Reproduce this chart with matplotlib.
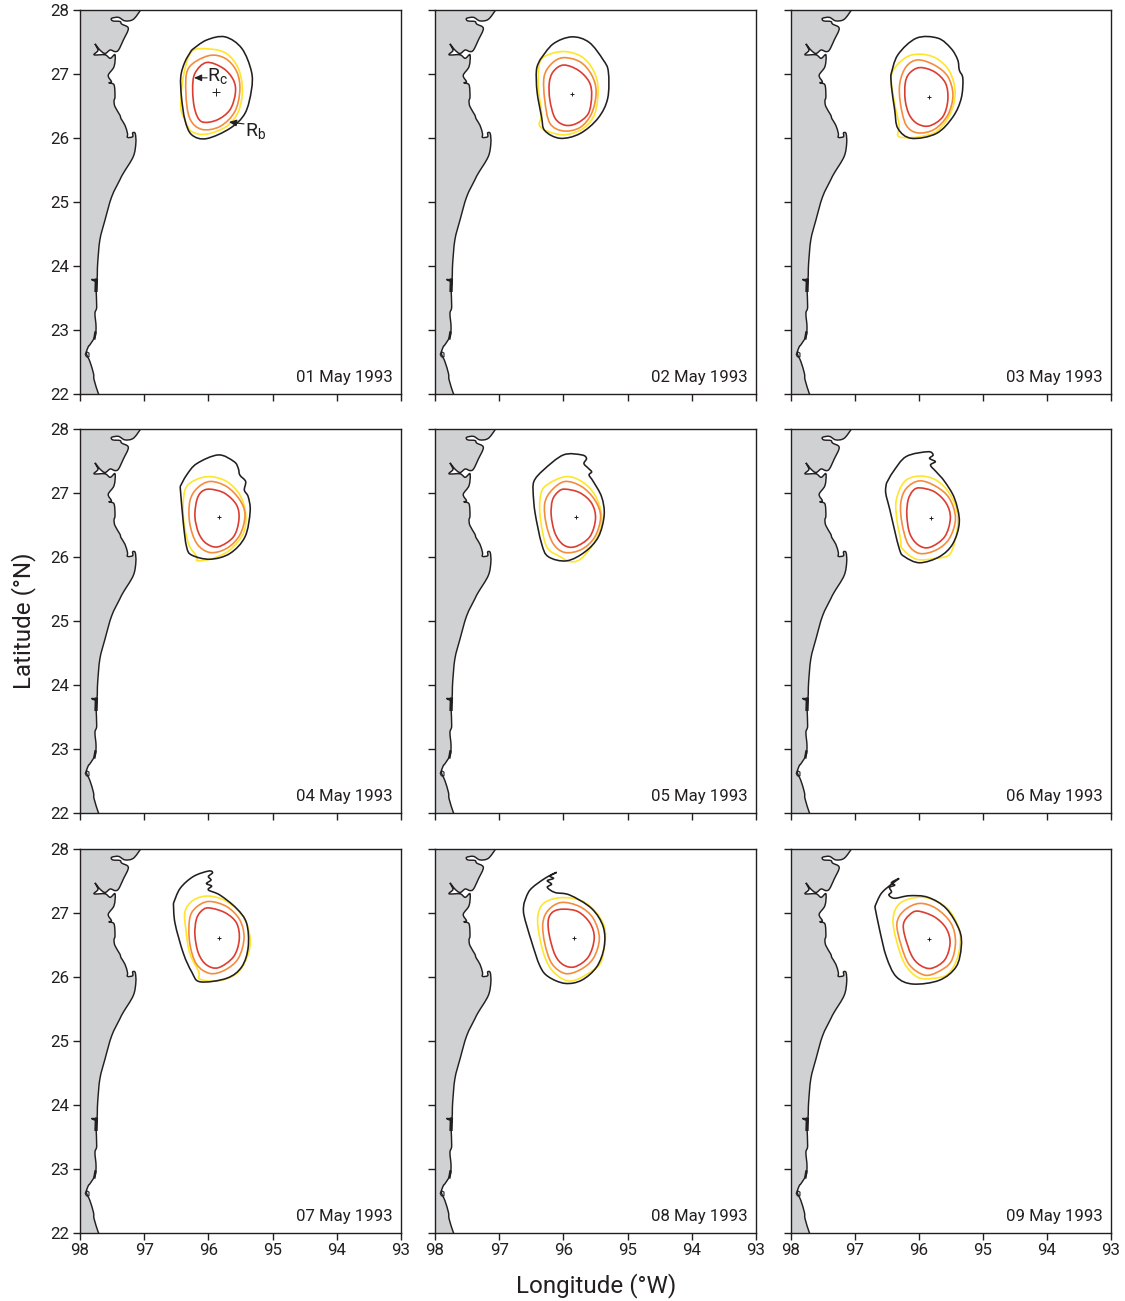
import matplotlib
matplotlib.use("Agg")
import matplotlib.pyplot as plt
from matplotlib.path import Path
from matplotlib.patches import PathPatch

plt.rcParams['font.family'] = ['Roboto', 'DejaVu Sans']
plt.rcParams['mathtext.fontset'] = 'custom'
plt.rcParams['mathtext.rm'] = 'Roboto'

W, H = 1125, 1301
dates = ['01 May 1993', '02 May 1993', '03 May 1993', '04 May 1993', '05 May 1993',
         '06 May 1993', '07 May 1993', '08 May 1993', '09 May 1993']
lon_ticks = [98, 97, 96, 95, 94, 93]
lat_ticks = [22, 23, 24, 25, 26, 27, 28]

coast = [(97.055,28.0),(97.17,27.854),(97.30,27.83),(97.40,27.885),(97.507,27.87),(97.49,27.83),(97.377,27.82),
         (97.35,27.78),(97.247,27.713),(97.325,27.53),(97.40,27.375),(97.455,27.35),(97.53,27.375),(97.61,27.32),
         (97.69,27.375),(97.767,27.47),(97.72,27.37),(97.78,27.30),(97.61,27.30),(97.53,27.245),(97.455,27.30),
         (97.47,27.115),(97.56,26.98),(97.51,26.88),(97.55,26.86),(97.47,26.83),(97.455,26.645),(97.47,26.58),(97.455,26.49),
         (97.38,26.36),(97.36,26.30),(97.30,26.2),(97.26,26.07),(97.26,26.01),(97.18,26.02),(97.18,26.08),(97.14,26.07),
         (97.13,25.92),(97.17,25.71),(97.325,25.45),(97.38,25.344),(97.507,25.08),(97.61,24.72),(97.69,24.41),
         (97.725,24.04),(97.74,23.78),(97.82,23.79),(97.74,23.77),(97.75,23.65),(97.74,23.36),(97.767,23.26),
         (97.75,23.05),(97.767,22.90),(97.845,22.77),(97.87,22.74),(97.90,22.635),(97.845,22.505),(97.79,22.32),
         (97.78,22.22),(97.715,22.01),(97.70,22.0)]
coast_bar_1 = [(97.745,23.78),(97.75,23.62)]
coast_bar_2 = [(97.76,22.96),(97.775,22.87)]
island = [(97.90,22.66),(97.86,22.64),(97.86,22.58),(97.90,22.58),(97.92,22.62),(97.90,22.66)]

black_1 = [(96.26,27.375),(96.03,27.53),(95.74,27.58),(95.48,27.40),(95.33,27.04),(95.33,26.75),(95.43,26.385),(95.665,26.15),(96.03,25.99),(96.26,26.05),(96.365,26.28),(96.42,26.645),(96.43,26.96),(96.365,27.19),(96.26,27.375)]
yellow_1 = [(96.26,27.35),(95.98,27.39),(95.72,27.32),(95.535,27.09),(95.47,26.75),(95.535,26.41),(95.72,26.18),(96.03,26.06),(96.26,26.10),(96.365,26.28),(96.43,26.49),(96.39,26.96)]
orange_1 = [(96.0,27.285),(95.74,27.245),(95.56,27.04),(95.51,26.75),(95.59,26.41),(95.82,26.18),(96.105,26.135),(96.29,26.305),(96.35,26.70),(96.31,27.09)]
red_1 = [(96.03,27.18),(95.77,27.09),(95.61,26.905),(95.58,26.70),(95.665,26.44),(95.87,26.28),(96.105,26.255),(96.21,26.44),(96.245,26.75),(96.21,27.01)]

black_2 = [(96.365,27.22),(96.16,27.47),(95.87,27.58),(95.6,27.495),(95.38,27.22),(95.30,27.035),(95.31,26.62),(95.46,26.31),(95.74,26.07),(96.05,25.995),(96.29,26.115),(96.34,26.33),(96.41,26.72),(96.42,27.06),(96.365,27.22)]
yellow_2 = [(96.365,27.19),(96.21,27.31),(95.975,27.35),(95.715,27.27),(95.535,27.06),(95.46,26.78),(95.51,26.385),(95.69,26.15),(95.975,26.05),(96.235,26.10),(96.375,26.20),(96.34,26.385),(96.39,26.80)]
orange_2 = [(96.0,27.255),(95.74,27.19),(95.56,26.985),(95.49,26.72),(95.56,26.385),(95.74,26.165),(96.0,26.11),(96.21,26.23),(96.29,26.59),(96.30,26.96),(96.18,27.165)]
red_2 = [(96.0,27.14),(95.77,27.06),(95.6,26.88),(95.56,26.67),(95.61,26.385),(95.79,26.23),(95.975,26.20),(96.13,26.31),(96.21,26.59),(96.22,26.855),(96.16,27.035)]

black_3 = [(96.44,26.985),(96.33,27.30),(96.04,27.56),(95.705,27.56),(95.50,27.40),(95.395,27.22),(95.37,27.06),(95.315,26.93),(95.34,26.62),(95.47,26.33),(95.73,26.07),(96.12,25.995),(96.33,26.15),(96.38,26.44),(96.43,26.80),(96.44,26.985)]
yellow_3 = [(96.43,26.985),(96.225,27.245),(95.99,27.31),(95.73,27.245),(95.52,27.035),(95.435,26.70),(95.52,26.36),(95.73,26.10),(95.99,26.02),(96.2,26.005),(96.33,26.035),(96.31,26.20),(96.38,26.54)]
orange_3 = [(96.02,27.22),(95.76,27.14),(95.55,26.96),(95.47,26.67),(95.55,26.36),(95.76,26.135),(96.02,26.08),(96.2,26.20),(96.29,26.54),(96.30,26.855),(96.2,27.115)]
red_3 = [(95.99,27.10),(95.76,27.035),(95.585,26.855),(95.55,26.59),(95.63,26.33),(95.835,26.19),(96.02,26.22),(96.15,26.36),(96.215,26.59),(96.215,26.855),(96.15,27.01)]

black_4 = [(96.44,27.10),(96.34,27.28),(96.18,27.46),(95.845,27.595),(95.60,27.49),(95.535,27.385),(95.51,27.28),(95.42,27.18),(95.44,27.045),(95.38,26.94),(95.35,26.71),(95.43,26.315),(95.665,26.055),(95.975,25.965),(96.26,26.03),(96.34,26.16),(96.39,26.525),(96.44,27.10)]
yellow_4 = [(96.365,27.045),(96.21,27.2),(95.975,27.255),(95.715,27.18),(95.51,26.97),(95.42,26.68),(95.455,26.37),(95.665,26.11),(95.925,25.98),(96.17,25.94),(96.18,26.005),(96.31,26.21),(96.39,26.63)]
orange_4 = [(95.975,27.18),(95.715,27.10),(95.51,26.89),(95.43,26.655),(95.51,26.345),(95.715,26.135),(95.975,26.07),(96.18,26.21),(96.29,26.525),(96.29,26.865),(96.18,27.07)]
red_4 = [(95.975,27.06),(95.745,26.995),(95.56,26.81),(95.525,26.58),(95.61,26.315),(95.845,26.16),(96.03,26.21),(96.15,26.37),(96.21,26.63),(96.18,26.89),(96.105,27.02)]

black_5 = [(96.47,26.97),(96.46,27.18),(96.31,27.36),(96.0,27.595),(95.715,27.595),(95.64,27.54),(95.68,27.46),(95.61,27.385),(95.56,27.33),(95.6,27.28),(95.535,27.18),(95.405,26.94),(95.365,26.655),(95.455,26.315),(95.665,26.08),(95.95,25.94),(96.235,26.005),(96.34,26.21),(96.44,26.68),(96.47,26.97)]
yellow_5 = [(96.365,26.89),(96.29,27.10),(95.975,27.255),(95.715,27.18),(95.51,26.97),(95.405,26.655),(95.455,26.345),(95.69,26.005),(95.87,25.925),(96.05,26.005),(96.26,26.16),(96.355,26.58)]
orange_5 = [(95.975,27.18),(95.715,27.10),(95.51,26.89),(95.42,26.63),(95.51,26.315),(95.715,26.12),(95.975,26.07),(96.16,26.21),(96.27,26.525),(96.29,26.84),(96.18,27.045)]
red_5 = [(95.975,27.06),(95.745,27.005),(95.56,26.84),(95.50,26.60),(95.59,26.315),(95.82,26.16),(96.0,26.19),(96.13,26.37),(96.19,26.655),(96.17,26.89),(96.08,27.02)]

black_6 = [(96.51,27.15),(96.405,27.33),(96.2,27.57),(95.86,27.645),(95.78,27.595),(95.835,27.54),(95.745,27.49),(95.82,27.435),(95.73,27.33),(95.6,27.18),(95.445,26.915),(95.37,26.55),(95.47,26.21),(95.68,26.005),(95.99,25.91),(96.225,26.005),(96.31,26.135),(96.455,26.735),(96.52,27.0),(96.51,27.15)]
yellow_6 = [(96.355,26.89),(96.225,27.18),(95.99,27.265),(95.73,27.2),(95.525,26.995),(95.405,26.71),(95.405,26.42),(95.51,26.055),(95.73,25.98),(96.04,25.965),(96.265,26.135),(96.285,26.265),(96.345,26.58)]
orange_6 = [(95.99,27.19),(95.73,27.10),(95.525,26.915),(95.43,26.605),(95.525,26.29),(95.73,26.11),(95.99,26.055),(96.17,26.2),(96.265,26.525),(96.285,26.84),(96.2,27.07)]
red_6 = [(95.99,27.08),(95.76,27.02),(95.575,26.84),(95.51,26.605),(95.6,26.315),(95.835,26.15),(96.015,26.19),(96.145,26.37),(96.19,26.655),(96.17,26.89),(96.095,27.035)]

black_7 = [(96.545,27.15),(96.44,27.385),(96.235,27.57),(96.0,27.655),(95.935,27.63),(96.0,27.57),(95.96,27.515),(96.03,27.46),(95.95,27.42),(96.0,27.36),(95.82,27.28),(95.56,27.07),(95.405,26.84),(95.38,26.47),(95.48,26.16),(95.715,25.98),(96.13,25.925),(96.26,26.08),(96.39,26.37),(96.52,26.84),(96.545,27.15)]
yellow_7 = [(96.365,27.02),(96.235,27.2),(96.0,27.265),(95.715,27.18),(95.455,26.94),(95.35,26.605),(95.395,26.315),(95.56,26.055),(95.845,25.94),(96.13,25.965),(96.15,26.08),(96.29,26.37),(96.35,26.735)]
orange_7 = [(96.0,27.18),(95.715,27.10),(95.51,26.89),(95.445,26.605),(95.535,26.29),(95.74,26.11),(95.975,26.055),(96.185,26.2),(96.29,26.525),(96.295,26.89),(96.21,27.07)]
red_7 = [(96.0,27.08),(95.74,27.005),(95.56,26.84),(95.52,26.58),(95.61,26.315),(95.845,26.145),(96.03,26.19),(96.155,26.37),(96.21,26.655),(96.19,26.89),(96.12,27.02)]

black_8 = [(96.615,27.15),(96.52,27.36),(96.29,27.54),(96.105,27.635),(96.21,27.58),(96.155,27.54),(96.25,27.505),(96.185,27.45),(96.25,27.40),(96.13,27.32),(95.9,27.28),(95.56,27.07),(95.38,26.785),(95.365,26.47),(95.48,26.16),(95.715,25.95),(95.975,25.90),(96.235,26.005),(96.365,26.17),(96.495,26.55),(96.615,26.97),(96.615,27.15)]
yellow_8 = [(96.39,26.995),(96.29,27.165),(96.03,27.24),(95.715,27.19),(95.48,26.995),(95.35,26.735),(95.38,26.37),(95.47,26.16),(95.86,25.94),(96.13,26.055),(96.29,26.315),(96.39,26.735)]
orange_8 = [(96.03,27.165),(95.745,27.10),(95.535,26.915),(95.44,26.605),(95.535,26.29),(95.745,26.11),(95.975,26.055),(96.18,26.21),(96.29,26.525),(96.32,26.84),(96.235,27.045)]
red_8 = [(96.0,27.06),(95.77,27.02),(95.585,26.84),(95.52,26.605),(95.61,26.315),(95.82,26.16),(96.0,26.19),(96.13,26.345),(96.22,26.655),(96.235,26.89),(96.16,27.02)]

black_9 = [(96.69,27.10),(96.59,27.305),(96.43,27.45),(96.31,27.54),(96.43,27.475),(96.38,27.435),(96.46,27.40),(96.43,27.33),(96.47,27.28),(96.38,27.23),(96.15,27.27),(95.86,27.245),(95.575,27.07),(95.37,26.735),(95.34,26.47),(95.42,26.16),(95.68,25.95),(96.095,25.89),(96.355,26.005),(96.51,26.315),(96.615,26.735),(96.69,27.10)]
yellow_9 = [(96.405,26.915),(96.3,27.15),(96.02,27.245),(95.76,27.2),(95.51,27.02),(95.36,26.68),(95.395,26.315),(95.55,26.045),(95.78,25.98),(96.02,25.995),(96.225,26.21),(96.355,26.58)]
orange_9 = [(95.99,27.15),(95.73,27.07),(95.5,26.84),(95.43,26.55),(95.5,26.24),(95.705,26.08),(95.915,26.03),(96.15,26.19),(96.28,26.5),(96.345,26.84),(96.225,27.045)]
red_9 = [(96.02,27.03),(95.76,26.94),(95.575,26.76),(95.515,26.525),(95.6,26.265),(95.81,26.135),(95.99,26.19),(96.12,26.345),(96.225,26.655),(96.24,26.84),(96.15,26.97)]

blacks = [black_1, black_2, black_3, black_4, black_5, black_6, black_7, black_8, black_9]
yellows = [yellow_1, yellow_2, yellow_3, yellow_4, yellow_5, yellow_6, yellow_7, yellow_8, yellow_9]
oranges = [orange_1, orange_2, orange_3, orange_4, orange_5, orange_6, orange_7, orange_8, orange_9]
reds = [red_1, red_2, red_3, red_4, red_5, red_6, red_7, red_8, red_9]
center_lon = [95.88, 95.86, 95.85, 95.83, 95.81, 95.815, 95.83, 95.835, 95.845]
center_lat = [26.72, 26.68, 26.645, 26.62, 26.62, 26.615, 26.61, 26.61, 26.59]

COL_LAND = '#CFD1D3'
COL_BLACK = '#231F20'
COL_Y = '#FFE52B'
COL_O = '#F58C3D'
COL_R = '#DC3D30'


def smooth_ring(pts):
    n = len(pts)
    verts = [pts[0]]
    codes = [Path.MOVETO]
    for i in range(n):
        p0, p1, p2, p3 = pts[i - 1], pts[i], pts[(i + 1) % n], pts[(i + 2) % n]
        c1 = (p1[0] + (p2[0] - p0[0]) / 6, p1[1] + (p2[1] - p0[1]) / 6)
        c2 = (p2[0] - (p3[0] - p1[0]) / 6, p2[1] - (p3[1] - p1[1]) / 6)
        verts += [c1, c2, p2]
        codes += [Path.CURVE4] * 3
    return Path(verts, codes)


def smooth_open(pts, extra=()):
    n = len(pts)
    verts = [pts[0]]
    codes = [Path.MOVETO]
    for i in range(n - 1):
        p0, p1, p2, p3 = pts[max(i - 1, 0)], pts[i], pts[i + 1], pts[min(i + 2, n - 1)]
        c1 = (p1[0] + (p2[0] - p0[0]) / 6, p1[1] + (p2[1] - p0[1]) / 6)
        c2 = (p2[0] - (p3[0] - p1[0]) / 6, p2[1] - (p3[1] - p1[1]) / 6)
        verts += [c1, c2, p2]
        codes += [Path.CURVE4] * 3
    for e in extra:
        verts.append(e)
        codes.append(Path.LINETO)
    return Path(verts, codes)


fig = plt.figure(figsize=(W / 100, H / 100), dpi=100)
col_x = [(80, 401), (435, 756), (791, 1111)]
row_y = [(10, 394), (429, 813), (849, 1233)]
axes = []
for r, (yt, yb) in enumerate(row_y):
    for c, (xl, xr) in enumerate(col_x):
        ax = fig.add_axes([xl / W, 1 - yb / H, (xr - xl) / W, (yb - yt) / H])
        i = r * 3 + c
        ax.set_xlim(98, 93)
        ax.set_ylim(22, 28)
        ax.add_patch(PathPatch(smooth_open(coast, [(98, 22), (98, 28)]), facecolor=COL_LAND, edgecolor='none', lw=0, zorder=1))
        ax.add_patch(PathPatch(smooth_open(coast), fill=False, edgecolor=COL_BLACK, lw=1.05, zorder=2))
        ax.plot([p[0] for p in coast_bar_1], [p[1] for p in coast_bar_1], color=COL_BLACK, lw=2.4, zorder=2)
        ax.plot([p[0] for p in coast_bar_2], [p[1] for p in coast_bar_2], color=COL_BLACK, lw=1.8, zorder=2)
        ax.plot([p[0] for p in island], [p[1] for p in island], color=COL_BLACK, lw=0.8, zorder=2)
        for ring, col in ((yellows[i], COL_Y), (oranges[i], COL_O), (reds[i], COL_R)):
            ax.add_patch(PathPatch(smooth_ring(ring), fill=False, edgecolor=col, lw=1.2, zorder=3))
        ax.add_patch(PathPatch(smooth_open(blacks[i]), fill=False, edgecolor=COL_BLACK, lw=1.15, zorder=4))
        ms = 6 if i == 0 else 3.5
        ax.plot([center_lon[i]], [center_lat[i]], '+', color=COL_BLACK, ms=ms, mew=0.7, zorder=5)
        ax.set_xticks(lon_ticks)
        ax.set_yticks(lat_ticks)
        ax.set_xticklabels([str(v) for v in lon_ticks] if r == 2 else [])
        ax.set_yticklabels([str(v) for v in lat_ticks] if c == 0 else [])
        ax.tick_params(length=5, width=1.0, color=COL_BLACK, labelsize=12.2, labelcolor=COL_BLACK, pad=2.5)
        for s in ax.spines.values():
            s.set_linewidth(1.0)
            s.set_color(COL_BLACK)
            s.set_zorder(6)
        ax.text(0.973, 0.042, dates[i], transform=ax.transAxes, ha='right', va='center',
                fontsize=12.1, color=COL_BLACK, zorder=7)
        axes.append(ax)

ax0 = axes[0]
arrow = dict(arrowstyle='-|>,head_length=0.45,head_width=0.2', color=COL_BLACK, lw=0.8, shrinkA=0, shrinkB=0)
ax0.annotate('', xy=(96.224, 26.94), xytext=(96.02, 26.94), arrowprops=arrow, zorder=8)
ax0.annotate('', xy=(95.68, 26.25), xytext=(95.445, 26.22), arrowprops=arrow, zorder=8)
ax0.text(96.02, 26.95, r'R$_{\mathrm{c}}$', ha='left', va='center', fontsize=14, color=COL_BLACK, zorder=8)
ax0.text(95.43, 26.10, r'R$_{\mathrm{b}}$', ha='left', va='center', fontsize=14, color=COL_BLACK, zorder=8)

fig.text(24 / W, 1 - 621 / H, 'Latitude (°N)', rotation=90, ha='center', va='center', fontsize=17.4, color=COL_BLACK)
fig.text(596 / W, 1 - 1286 / H, 'Longitude (°W)', ha='center', va='center', fontsize=17.4, color=COL_BLACK)

fig.savefig('out.png', dpi=100, facecolor='white')
